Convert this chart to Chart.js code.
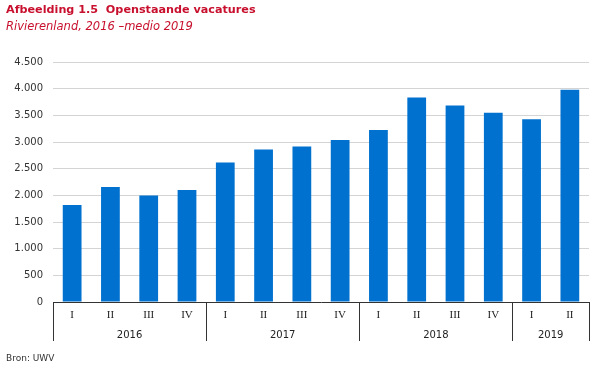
<!DOCTYPE html>
<html>
<head>
<meta charset="utf-8">
<script src="https://cdn.jsdelivr.net/npm/chart.js@4.4.1/dist/chart.umd.min.js"></script>
<style>
  html, body { margin: 0; padding: 0; background: #fff; }
  #wrap { position: relative; width: 604px; height: 367px; }
  #bron { position: absolute; left: 6px; top: 353px; font: 9px "DejaVu Sans", sans-serif; color: #333; }
</style>
</head>
<body>
<div id="wrap">
  <canvas id="chart" width="604" height="367"></canvas>
  <div id="bron">Bron: UWV</div>
</div>
<script>
// quarters per year
var quarters = ["I", "II", "III", "IV", "I", "II", "III", "IV", "I", "II", "III", "IV", "I", "II"];
var vacatures = [1820, 2160, 2000, 2100, 2620, 2860, 2920, 3040, 3230, 3840, 3690, 3550, 3430, 3985];
var years = ["2016", "2017", "2018", "2019"];
var quartersPerYear = [4, 4, 4, 2];

// group boundaries and centres on the 0..14 year axis
var yearBounds = [0];
var yearCentres = [];
var pos = 0;
for (var i = 0; i < quartersPerYear.length; i++) {
    yearCentres.push(pos + quartersPerYear[i] / 2);
    pos += quartersPerYear[i];
    yearBounds.push(pos);
}

function dots(v) {
    return String(v).replace(/\B(?=(\d{3})+(?!\d))/g, ".");
}

// vertical divider lines between the years, under the x axis
var dividers = {
    id: "dividers",
    afterDraw: function(chart) {
        var x2 = chart.scales.x2;
        var ctx = chart.ctx;
        ctx.save();
        ctx.strokeStyle = "#333";
        ctx.lineWidth = 1;
        for (var i = 0; i < yearBounds.length; i++) {
            var px = Math.round(x2.getPixelForValue(yearBounds[i])) + 0.5;
            ctx.beginPath();
            ctx.moveTo(px, chart.chartArea.bottom);
            ctx.lineTo(px, x2.bottom);
            ctx.stroke();
        }
        ctx.restore();
    }
};

new Chart(document.getElementById("chart"), {
    type: "bar",
    data: {
        labels: quarters,
        datasets: [{ data: vacatures, backgroundColor: "#0071CE", barPercentage: 0.49, categoryPercentage: 1 }]
    },
    options: {
        responsive: false,
        animation: false,
        layout: { padding: { left: 6, right: 15, top: 0, bottom: 26 } },
        plugins: {
            legend: { display: false },
            tooltip: { enabled: false },
            title: {
                display: true, text: "Afbeelding 1.5  Openstaande vacatures", align: "start",
                color: "#C8102E", font: { family: "DejaVu Sans", size: 11.2, weight: "bold" },
                padding: { top: 3, bottom: 4 }
            },
            subtitle: {
                display: true, text: "Rivierenland, 2016 \u2013medio 2019", align: "start",
                color: "#C8102E", font: { family: "DejaVu Sans", size: 11.5, style: "italic" },
                padding: { top: 0, bottom: 28 }
            }
        },
        scales: {
            y: {
                min: 0, max: 4500,
                afterFit: function(scale) { scale.width = 47; },
                ticks: { stepSize: 500, color: "#333", padding: 10, font: { family: "DejaVu Sans", size: 10 }, callback: function(v) { return dots(v); } },
                grid: { color: "#d4d4d4", drawTicks: false },
                border: { display: false }
            },
            x: {
                weight: 0,
                afterFit: function(scale) { scale.height = 20; },
                grid: { display: false, drawTicks: false },
                border: { color: "#333", width: 1 },
                ticks: { color: "#222", padding: 7, font: { family: "Liberation Serif", size: 11 }, maxRotation: 0 }
            },
            x2: {
                type: "linear", position: "bottom", weight: 1,
                min: 0, max: quarters.length, offset: false, bounds: "data",
                afterFit: function(scale) { scale.height = 19; },
                afterBuildTicks: function(scale) {
                    scale.ticks = yearCentres.map(function(v) { return { value: v }; });
                },
                grid: { display: false, drawTicks: false, offset: false },
                border: { display: false },
                ticks: {
                    color: "#222", padding: 7, autoSkip: false, maxRotation: 0,
                    font: { family: "DejaVu Sans", size: 10 },
                    callback: function(v) {
                        var k = yearCentres.indexOf(v);
                        return k >= 0 ? years[k] : "";
                    }
                }
            }
        }
    },
    plugins: [dividers]
});
</script>
</body>
</html>
